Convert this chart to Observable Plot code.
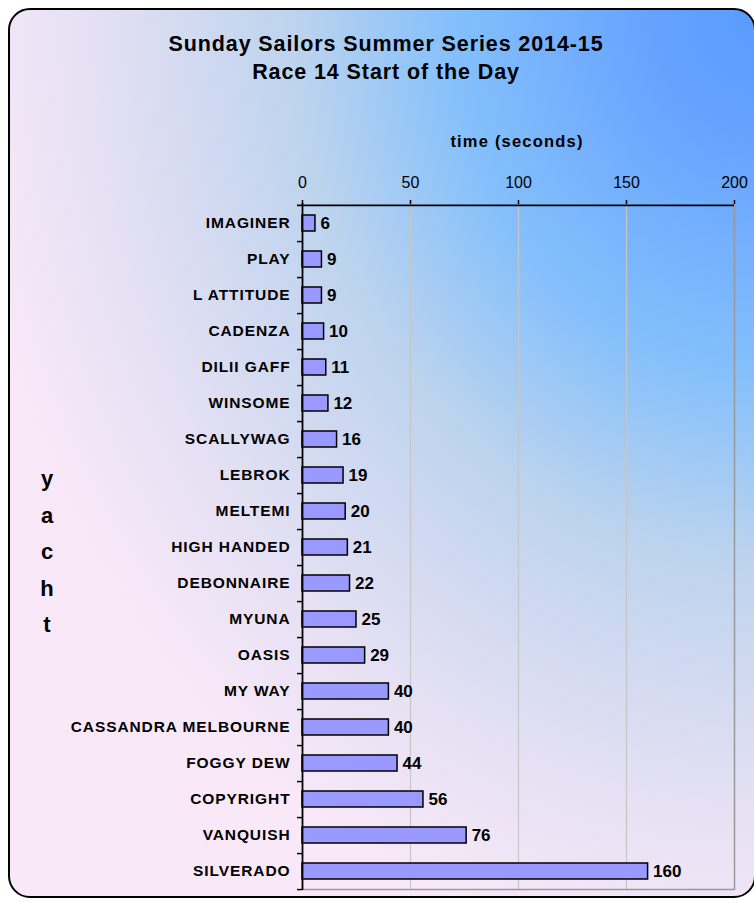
<!DOCTYPE html>
<html>
<head>
<meta charset="utf-8">
<script src="https://cdn.jsdelivr.net/npm/d3@7"></script>
<script src="https://cdn.jsdelivr.net/npm/@observablehq/plot@0.6"></script>
<style>
  html, body { margin: 0; padding: 0; background: #fff; }
  #wrap { position: relative; width: 754px; height: 903px; overflow: hidden; font-family: "Liberation Sans", Arial, sans-serif; }
  #panel { position: absolute; left: 8px; top: 8px; width: 748px; height: 890px; box-sizing: border-box;
    border: 2px solid #000; border-radius: 22px;
    background: radial-gradient(ellipse 800px 960px at 100% 0%, #5b9bff 0%, #66a3ff 13%, #85c0fb 38%, #bcd3ee 57%, #e4e0f3 82%, #f8e8f8 100%); }
  .title { position: absolute; left: 386px; transform: translateX(-50%); white-space: nowrap; font-weight: bold; font-size: 21.5px; letter-spacing: 0.9px; color: #000; }
  #xlabel { position: absolute; left: 517px; top: 132px; transform: translateX(-50%); font-weight: bold; font-size: 16.5px; letter-spacing: 1.2px; white-space: nowrap; }
  #ylabel { position: absolute; left: 37px; top: 461px; width: 20px; text-align: center; font-weight: bold; font-size: 22px; line-height: 36.5px; }
  #chart { position: absolute; left: 0; top: 0; }
  #chart .ylab text { letter-spacing: 0.9px; }
</style>
</head>
<body>
<div id="wrap">
  <div id="panel"></div>
  <div class="title" style="top:32px">Sunday Sailors Summer Series 2014-15</div>
  <div class="title" style="top:60px">Race 14 Start of the Day</div>
  <div id="xlabel">time (seconds)</div>
  <div id="ylabel"></div>
  <div id="chart"></div>
</div>
<script>
const yachts = ["IMAGINER","PLAY","L ATTITUDE","CADENZA","DILII GAFF","WINSOME","SCALLYWAG","LEBROK","MELTEMI","HIGH HANDED","DEBONNAIRE","MYUNA","OASIS","MY WAY","CASSANDRA MELBOURNE","FOGGY DEW","COPYRIGHT","VANQUISH","SILVERADO"];
const times = [6,9,9,10,11,12,16,19,20,21,22,25,29,40,40,44,56,76,160];
const xTicks = [0,50,100,150,200];
const gridTicks = [50,100,150];
const yLabelText = "yacht";

document.getElementById("ylabel").innerHTML = yLabelText.split("").map(c => `<div>${c}</div>`).join("");

const data = yachts.map((y, i) => ({yacht: y, time: times[i]}));

const H = 903, mt = 203, mb = 13;
const step = (H - mt - mb) / yachts.length;

const chart = Plot.plot({
  width: 754,
  height: H,
  marginTop: mt,
  marginBottom: mb,
  marginLeft: 302,
  marginRight: 20,
  style: {background: "transparent", fontFamily: "Liberation Sans, Arial, sans-serif", color: "#000"},
  x: {domain: [0, 200], axis: null},
  y: {domain: yachts, paddingInner: 0.56, paddingOuter: 0.28, axis: null},
  marks: [
    Plot.ruleX(gridTicks, {stroke: "#c6c6c6", strokeWidth: 1.2}),
    Plot.ruleX([200], {stroke: "#999", strokeWidth: 1.5}),
    Plot.ruleY([yachts[yachts.length - 1]], {dy: step / 2, stroke: "#999", strokeWidth: 1.5}),
    Plot.axisX(xTicks, {anchor: "top", label: null, tickSize: 4, tickPadding: 12, fontSize: 16, stroke: "#000", strokeWidth: 1.5, tickFormat: d => d}),
    Plot.axisY({anchor: "left", label: null, tickSize: 0, tickPadding: 12, fontSize: 15.5, fontWeight: "bold", className: "ylab"}),
    Plot.axisY({anchor: "left", label: null, tickSize: 5, tickFormat: () => "", dy: step / 2, strokeWidth: 1.5}),
    Plot.barX(data, {x: "time", y: "yacht", fill: "#9999ff", stroke: "#000", strokeWidth: 1.5}),
    Plot.ruleX([0], {stroke: "#000", strokeWidth: 1.8}),
    Plot.ruleY([yachts[0]], {dy: -step / 2, stroke: "#000", strokeWidth: 1.8, insetLeft: -5}),
    Plot.text(data, {x: "time", y: "yacht", text: d => String(d.time), dx: 5, textAnchor: "start", fontWeight: "bold", fontSize: 17})
  ]
});
chart.querySelectorAll('g[aria-label="y-axis tick label"] text').forEach(t => t.setAttribute("letter-spacing", "0.9"));
document.getElementById("chart").appendChild(chart);
</script>
</body>
</html>
